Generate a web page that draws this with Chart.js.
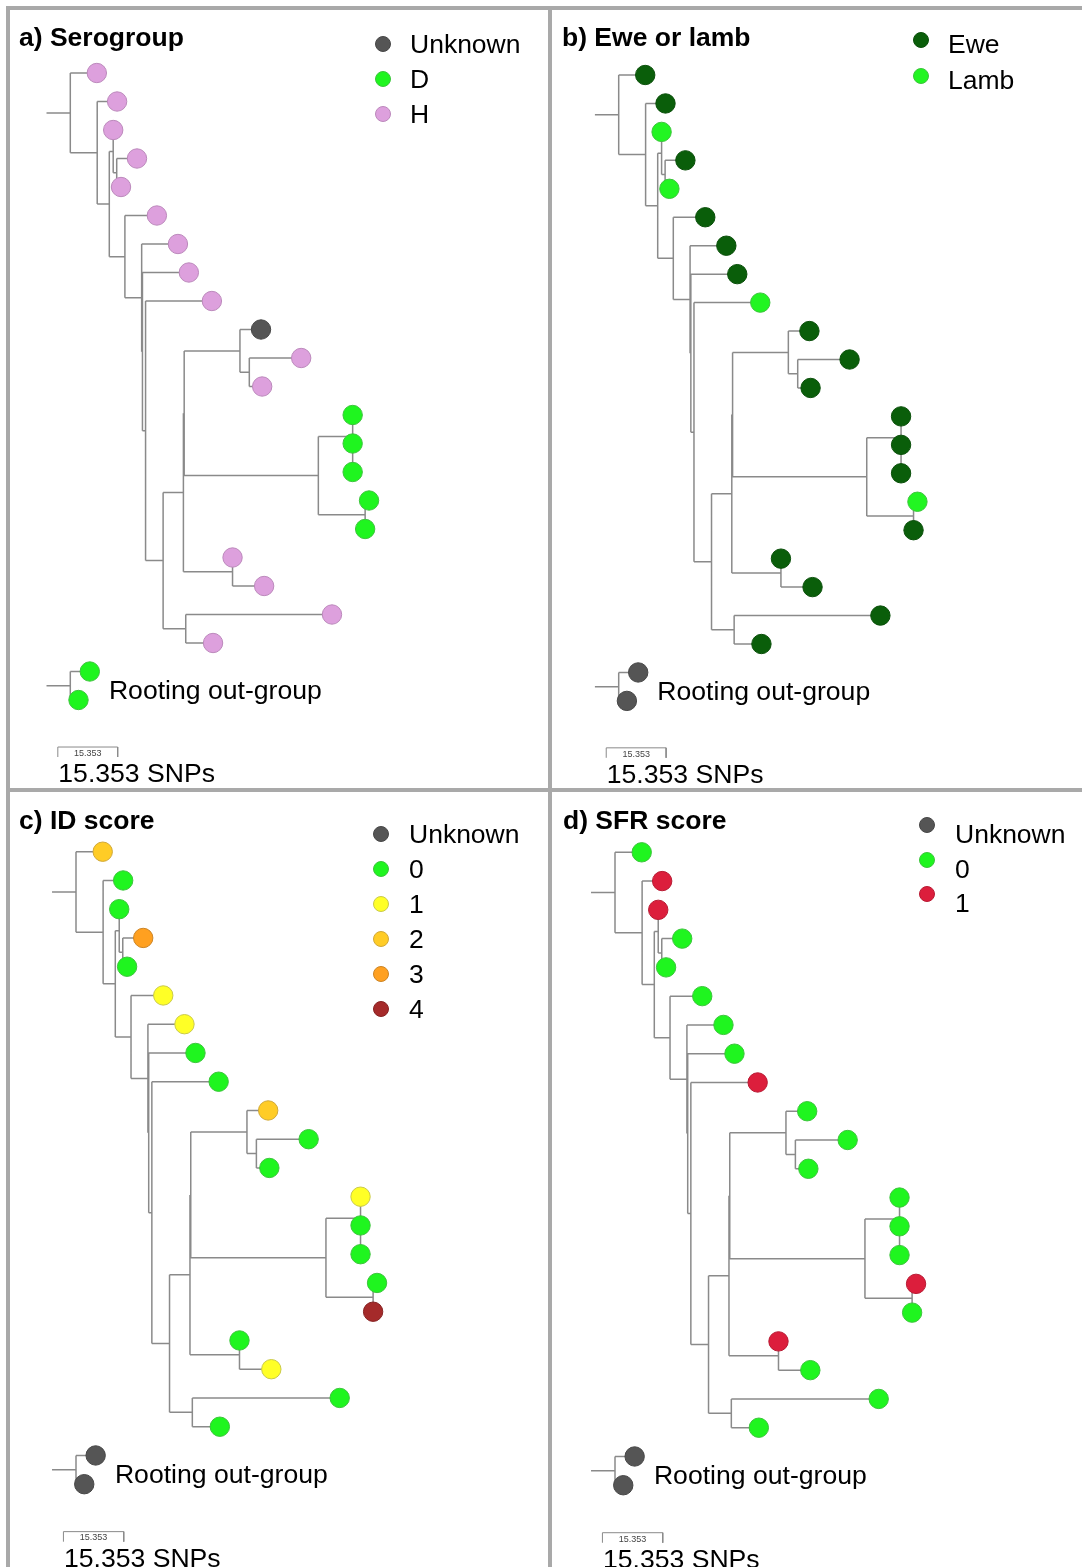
<!DOCTYPE html>
<html>
<head>
<meta charset="utf-8">
<script src="https://cdn.jsdelivr.net/npm/chart.js@4.4.0/dist/chart.umd.min.js"></script>
<style>
  body { margin: 0; background: #fff; font-family: "Liberation Sans", Arial, sans-serif; }
  #fig { position: relative; width: 1082px; height: 1567px; overflow: hidden; background: #fff; }
  .panel { position: absolute; overflow: hidden; }
  .panel canvas { position: absolute; left: 0; top: 0; }
  .title { position: absolute; font-weight: bold; font-size: 26.5px; line-height: 26px; color: #000; white-space: nowrap; }
  .legtext { position: absolute; font-size: 26.5px; line-height: 26px; color: #000; white-space: nowrap; }
  .legdot { position: absolute; width: 16px; height: 16px; border-radius: 50%; box-sizing: border-box; border: 1px solid; }
  .rule { position: absolute; background: #a9a9a9; }
</style>
</head>
<body>
<div id="fig">
  <div class="rule" style="left:6px;top:6px;width:1076px;height:4px"></div>
  <div class="rule" style="left:6px;top:6px;width:4px;height:1561px"></div>
  <div class="rule" style="left:548px;top:6px;width:4px;height:1561px"></div>
  <div class="rule" style="left:6px;top:788px;width:1076px;height:4px"></div>
</div>
<script>
// tree: node name, parent, distance from root (SNPs)
const nodeNames   = ['root','t1','A','t2','B','C','t3','D','t4','t5','E','t6','F','t7','F1','t8','F2','t9','G',
                     'H','H1','J','t10','K','t11','t12','L','M','t13','M2','t14','t15','N','t16','t17',
                     'O','t18','t19','I','t20','t21','og','og1','og2'];
const nodeParents = [null,'root','root','A','A','B','C','C','D','D','B','E','E','F','F','F1','F1','F2','F2',
                     'G','H','H1','J','J','K','K','H1','L','M','M','M2','M2','L','N','N',
                     'H','O','O','G','I','I',null,'og','og'];
const nodeDepths  = [0, 6.8, 6.9, 12.0, 10.0, 11.0, 11.0, 11.9, 17.1, 13.0, 14.0, 22.2, 18.3, 27.6, 18.5, 30.4, 19.3, 36.3, 23.8,
                     29.0, 29.2, 43.5, 48.9, 45.9, 59.2, 49.2, 63.6, 72.4, 72.4, 72.4, 72.4, 72.4, 75.6, 76.6, 75.6,
                     41.6, 41.6, 49.7, 29.6, 67.1, 36.6, 0, 5.0, 2.1];
// tips from top to bottom (last two = rooting out-group)
const tipOrder = ['t1','t2','t3','t4','t5','t6','t7','t8','t9','t10','t11','t12','t13','t14','t15','t16','t17',
                  't18','t19','t20','t21','og1','og2'];
const rootStub = 6.1;
const scaleBarLength = 15.353;

// tip values per panel (same order as tipOrder)
const serogroup = ['H','H','H','H','H','H','H','H','H','Unknown','H','H','D','D','D','D','D','H','H','H','H','D','D'];
const eweOrLamb = ['Ewe','Ewe','Lamb','Ewe','Lamb','Ewe','Ewe','Ewe','Lamb','Ewe','Ewe','Ewe','Ewe','Ewe','Ewe','Lamb','Ewe',
                   'Ewe','Ewe','Ewe','Ewe','Unknown','Unknown'];
const idScore   = ['2','0','0','3','0','1','1','0','0','2','0','0','1','0','0','0','4','0','1','0','0','Unknown','Unknown'];
const sfrScore  = ['0','1','1','0','0','0','0','0','1','0','0','0','0','0','0','1','0','1','0','0','0','Unknown','Unknown'];

const serogroupKeys = ['Unknown','D','H'];
const eweOrLambKeys = ['Ewe','Lamb'];
const idScoreKeys   = ['Unknown','0','1','2','3','4'];
const sfrScoreKeys  = ['Unknown','0','1'];

// colours
const grey = ['#555555','#474747'];
const green = ['#1ff51f','#3cc43c'];
const colours = {
  serogroup: { Unknown: grey, D: green, H: ['#dda0dd','#bb88bb'] },
  ewe: { Unknown: grey, Ewe: ['#0a5e0a','#0a4f0a'], Lamb: ['#22f522','#3cc43c'] },
  id: { Unknown: grey, '0': green, '1': ['#ffff26','#c9c94a'], '2': ['#ffcc26','#d0a838'], '3': ['#ffa020','#cc8424'], '4': ['#a52a2a','#862222'] },
  sfr: { Unknown: grey, '0': green, '1': ['#dc1e3c','#b81a33'] }
};

const panels = [
  { title: 'a) Serogroup', values: serogroup, keys: serogroupKeys, col: colours.serogroup,
    left: 10, top: 10, w: 538, h: 778, rootX: 60.3, tip1Y: 63, step: 28.5, pxPerSnp: 3.9,
    legend: { dotX: 373, dotY: 34, textX: 400, textY: 34, gap: 35 }, titlePos: [9, 14] },
  { title: 'b) Ewe or lamb', values: eweOrLamb, keys: eweOrLambKeys, col: colours.ewe,
    left: 552, top: 10, w: 530, h: 778, rootX: 66.7, tip1Y: 65, step: 28.45, pxPerSnp: 3.9,
    legend: { dotX: 369, dotY: 30, textX: 396, textY: 34, gap: 35.5 }, titlePos: [10, 14] },
  { title: 'c) ID score', values: idScore, keys: idScoreKeys, col: colours.id,
    left: 10, top: 792, w: 538, h: 775, rootX: 66, tip1Y: 59.7, step: 28.75, pxPerSnp: 3.93,
    legend: { dotX: 371, dotY: 42, textX: 399, textY: 42, gap: 35 }, titlePos: [9, 15] },
  { title: 'd) SFR score', values: sfrScore, keys: sfrScoreKeys, col: colours.sfr,
    left: 552, top: 792, w: 530, h: 775, rootX: 63, tip1Y: 60.3, step: 28.77, pxPerSnp: 3.93,
    legend: { dotX: 375, dotY: 33, textX: 403, textY: 42, gap: 34.5 }, titlePos: [11, 15] }
];

function layoutTree() {
  const pos = {};
  nodeNames.forEach((n, i) => { pos[n] = { x: nodeDepths[i], parent: nodeParents[i], children: [] }; });
  nodeNames.forEach((n, i) => { if (nodeParents[i]) pos[nodeParents[i]].children.push(n); });
  tipOrder.forEach((n, i) => { pos[n].y = i + 1; });
  function getY(n) {
    const p = pos[n];
    if (p.y === undefined) {
      const ys = p.children.map(getY);
      p.y = ys.reduce((a, b) => a + b, 0) / ys.length;
    }
    return p.y;
  }
  nodeNames.forEach(getY);
  return pos;
}

const pos = layoutTree();
const gap = { x: null, y: null };
const branches = [];
nodeNames.forEach(n => {
  const p = pos[n];
  if (p.parent === null) {
    branches.push({ x: p.x - rootStub, y: p.y }, { x: p.x, y: p.y }, gap);
  }
  if (p.children.length) {
    const ys = p.children.map(c => pos[c].y);
    branches.push({ x: p.x, y: Math.min(...ys) }, { x: p.x, y: Math.max(...ys) }, gap);
    p.children.forEach(c => {
      branches.push({ x: p.x, y: pos[c].y }, { x: pos[c].x, y: pos[c].y }, gap);
    });
  }
});

const barStart = -3.2, barTop = 24.65, barBottom = 25.0;
const scaleBar = [
  { x: barStart, y: barBottom }, { x: barStart, y: barTop },
  { x: barStart + scaleBarLength, y: barTop }, { x: barStart + scaleBarLength, y: barBottom }
];

const textPlugin = {
  id: 'treeText',
  afterDatasetsDraw(chart) {
    const ctx = chart.ctx, xs = chart.scales.x, ys = chart.scales.y;
    ctx.save();
    ctx.fillStyle = '#000';
    ctx.textBaseline = 'middle';
    ctx.textAlign = 'left';
    ctx.font = '26.6px "Liberation Sans", Arial, sans-serif';
    ctx.fillText('Rooting out-group', xs.getPixelForValue(9.9), ys.getPixelForValue(22.7));
    ctx.fillText(scaleBarLength + ' SNPs', xs.getPixelForValue(barStart) + 0.5, ys.getPixelForValue(25.62));
    ctx.font = '9px "Liberation Sans", Arial, sans-serif';
    ctx.fillStyle = '#444';
    ctx.textAlign = 'center';
    ctx.fillText(String(scaleBarLength), xs.getPixelForValue(barStart + scaleBarLength / 2), ys.getPixelForValue(24.87));
    ctx.restore();
  }
};

const fig = document.getElementById('fig');
panels.forEach(pn => {
  const div = document.createElement('div');
  div.className = 'panel';
  div.style.cssText = `left:${pn.left}px;top:${pn.top}px;width:${pn.w}px;height:${pn.h}px`;
  fig.appendChild(div);
  const canvas = document.createElement('canvas');
  canvas.width = pn.w; canvas.height = pn.h;
  div.appendChild(canvas);

  const t = document.createElement('div');
  t.className = 'title';
  t.textContent = pn.title;
  t.style.left = pn.titlePos[0] + 'px'; t.style.top = pn.titlePos[1] + 'px';
  div.appendChild(t);

  pn.keys.forEach((k, i) => {
    const d = document.createElement('div');
    d.className = 'legdot';
    d.style.left = (pn.legend.dotX - 8) + 'px';
    d.style.top = (pn.legend.dotY + i * pn.legend.gap - 8) + 'px';
    d.style.background = pn.col[k][0];
    d.style.borderColor = pn.col[k][1];
    div.appendChild(d);
    const s = document.createElement('div');
    s.className = 'legtext';
    s.textContent = k;
    s.style.left = pn.legend.textX + 'px';
    s.style.top = (pn.legend.textY + i * pn.legend.gap - 13) + 'px';
    div.appendChild(s);
  });

  const xMin = -pn.rootX / pn.pxPerSnp;
  const yMin = 1 - pn.tip1Y / pn.step;
  const tips = tipOrder.map(n => ({ x: pos[n].x, y: pos[n].y }));

  new Chart(canvas.getContext('2d'), {
    type: 'scatter',
    data: {
      datasets: [
        { label: 'tips', data: tips, order: 0, showLine: false, pointRadius: 9.7,
          pointBackgroundColor: pn.values.map(v => pn.col[v][0]),
          pointBorderColor: pn.values.map(v => pn.col[v][1]), pointBorderWidth: 1 },
        { label: 'branches', data: branches, order: 1, showLine: true, spanGaps: false,
          borderColor: '#8a8a8a', borderWidth: 1.5, pointRadius: 0, fill: false },
        { label: 'scale bar', data: scaleBar, order: 1, showLine: true,
          borderColor: '#8a8a8a', borderWidth: 1, pointRadius: 0, fill: false }
      ]
    },
    options: {
      responsive: false,
      animation: false,
      events: [],
      layout: { padding: 0, autoPadding: false },
      plugins: { legend: { display: false }, tooltip: { enabled: false } },
      scales: {
        x: { type: 'linear', display: false, min: xMin, max: xMin + pn.w / pn.pxPerSnp },
        y: { type: 'linear', display: false, reverse: true, min: yMin, max: yMin + pn.h / pn.step }
      }
    },
    plugins: [textPlugin]
  });
});
</script>
</body>
</html>
